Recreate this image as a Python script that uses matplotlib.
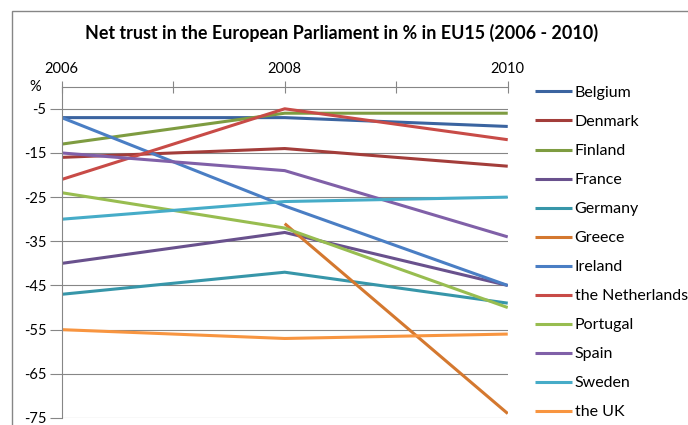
import matplotlib
matplotlib.use('Agg')
import matplotlib.pyplot as plt
from matplotlib.patches import Rectangle

plt.rcParams['font.family'] = ['Lato', 'DejaVu Sans']

### Data
years = [2006, 2008, 2010]
countries = ['Belgium', 'Denmark', 'Finland', 'France', 'Germany', 'Greece',
             'Ireland', 'the Netherlands', 'Portugal', 'Spain', 'Sweden', 'the UK']
belgium = [-7, -7, -9]
denmark = [-16, -14, -18]
finland = [-13, -6, -6]
france = [-40, -33, -45]
germany = [-47, -42, -49]
greece = [None, -31, -74]
ireland = [-7, -27, -45]
netherlands = [-21, -5, -12]
portugal = [-24, -32, -50]
spain = [-15, -19, -34]
sweden = [-30, -26, -25]
uk = [-55, -57, -56]
series = [belgium, denmark, finland, france, germany, greece,
          ireland, netherlands, portugal, spain, sweden, uk]
colors = ['#3B64A0', '#A33D3A', '#7E9C41', '#69518D', '#3796A9', '#D4782F',
          '#4A7EC4', '#C84B47', '#98BD50', '#8060A8', '#46ACC8', '#F89540']

y_ticks = [-75, -65, -55, -45, -35, -25, -15, -5]

### Plot
fig = plt.figure(figsize=(6.88, 4.25), dpi=100)
ax = fig.add_axes([0.0897, 0.0165, 0.6483, 0.7795])

for name, vals, col in zip(countries, series, colors):
    xs = [x for x, v in zip(years, vals) if v is not None]
    ys = [v for v in vals if v is not None]
    ax.plot(xs, ys, color=col, lw=2.2, label=name, solid_capstyle='butt')

ax.set_xlim(2006, 2010)
ax.set_ylim(-75, 0)
ax.set_yticks(y_ticks)
ax.set_yticklabels([str(t) for t in y_ticks])
ax.set_xticks([2006, 2007, 2008, 2009, 2010])
ax.set_xticklabels(['2006', '', '2008', '', '2010'])
ax.xaxis.tick_top()
ax.tick_params(axis='x', direction='inout', length=8, width=0.8, color='#868686',
               labelsize=10.5, pad=3.5, labelcolor='black')
ax.tick_params(axis='y', direction='out', length=9, width=0.8, color='#868686',
               labelsize=10.5, pad=2, labelcolor='black')
ax.grid(axis='y', color='#868686', lw=0.8)
ax.set_axisbelow(True)
for side in ['right', 'bottom']:
    ax.spines[side].set_visible(False)
for side in ['left', 'top']:
    ax.spines[side].set_color('#868686')
    ax.spines[side].set_linewidth(0.8)

# unit label at the top of the value axis
ax.text(-0.06, 1.0, '%', transform=ax.transAxes, ha='center', va='center', fontsize=10.5)

fig.text(0.497, 0.922, 'Net trust in the European Parliament in % in EU15 (2006 - 2010)',
         ha='center', va='center', fontsize=12.9, weight='bold')

leg = fig.legend(loc='upper left', bbox_to_anchor=(0.768, 0.813), frameon=False,
                 fontsize=11.5, handlelength=2.3, handletextpad=0.2,
                 labelspacing=0.93, borderaxespad=0)

# chart area border
fig.patches.append(Rectangle((12 / 688, -0.05), 1.0, 1 - 11 / 425 + 0.05,
                             transform=fig.transFigure, fill=False,
                             edgecolor='#868686', lw=1.0))

fig.savefig('out.png', dpi=100)
